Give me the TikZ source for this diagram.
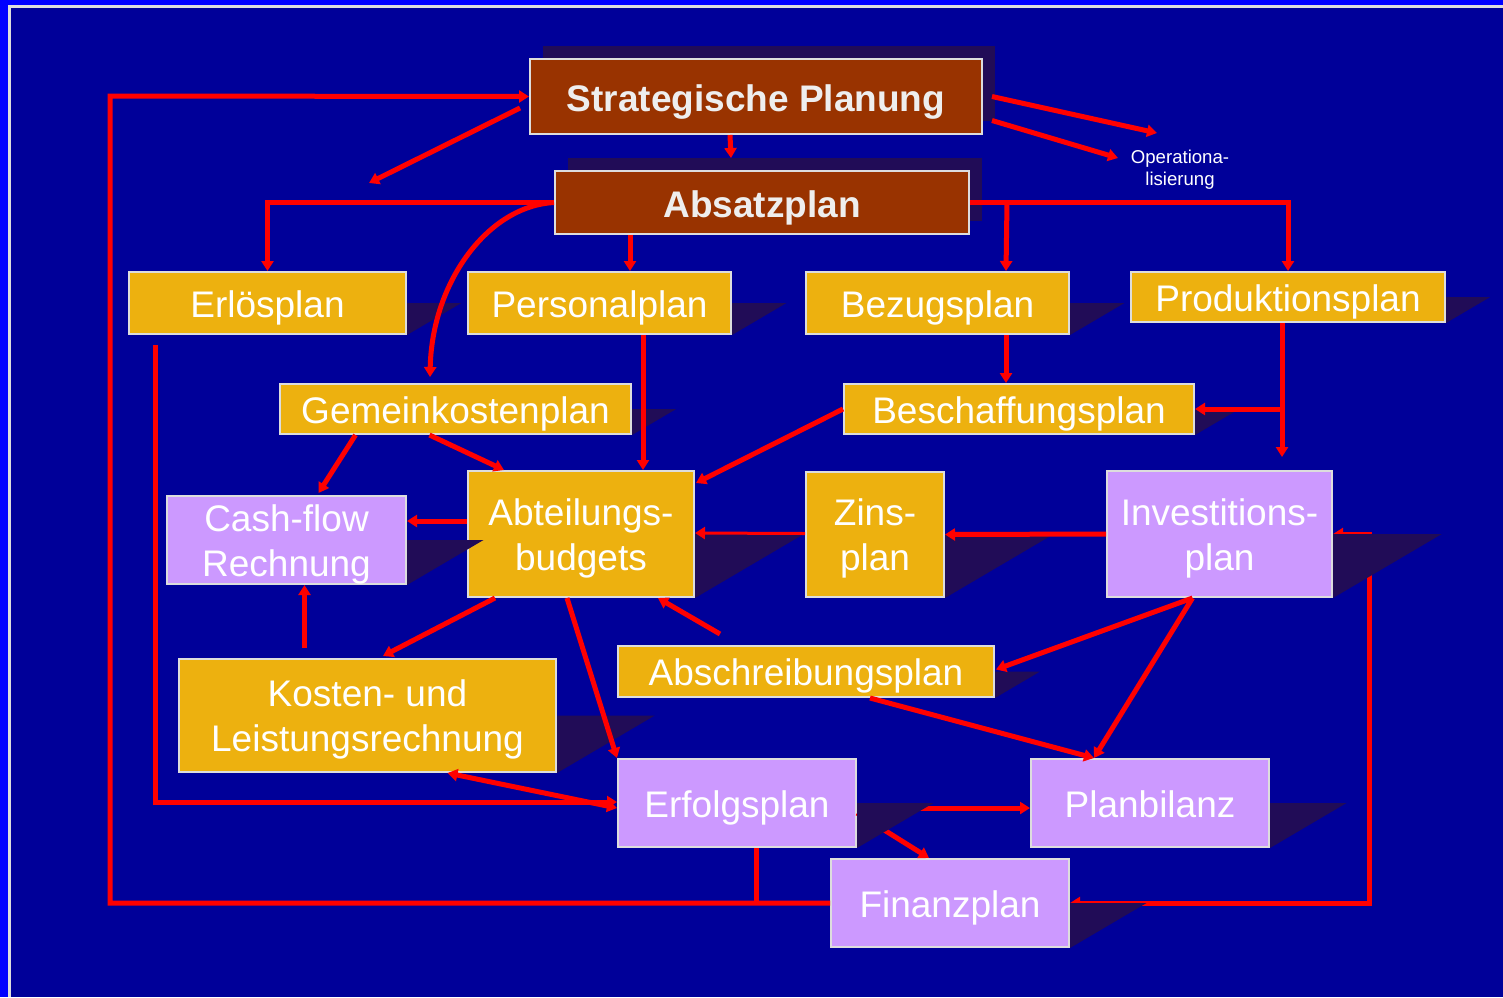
\documentclass[tikz,border=0pt]{standalone}
\usepackage{fontspec}
\setmainfont{Liberation Sans}
\usetikzlibrary{arrows.meta, positioning, calc, shadows}
\definecolor{DeepBlue}{HTML}{000099}
\definecolor{EdgeBlue}{HTML}{0000FF}
\definecolor{FrameGray}{HTML}{DDDDDD}
\definecolor{PlanBrown}{HTML}{993300}
\definecolor{PlanGold}{HTML}{EDB10F}
\definecolor{PlanLilac}{HTML}{CC99FF}
\definecolor{ShadowPurple}{HTML}{210C57}
\definecolor{LinkRed}{HTML}{FF0000}
\definecolor{TitleWhite}{HTML}{EEEEEE}

\begin{document}
\begin{tikzpicture}[x=0.5pt, y=-0.5pt, >={Triangle[length=5pt, width=6pt]},
    planbox/.style={draw=FrameGray, line width=1pt, text=white, align=center,
      inner sep=1pt, font=\fontsize{18.5}{22.5}\selectfont,
      text height=14.3pt, text depth=0pt},
    twoline/.style={text height=36.3pt},
    goldbox/.style={planbox, fill=PlanGold},
    lilacbox/.style={planbox, fill=PlanLilac},
    headbox/.style={planbox, fill=PlanBrown, text=TitleWhite,
      font=\bfseries\fontsize{18.5}{22.5}\selectfont, text height=15pt,
      drop shadow={shadow xshift=6.5pt, shadow yshift=6.5pt, opacity=1, fill=ShadowPurple}},
    planarrow/.style={->, draw=LinkRed, line width=2.5pt}]
  \useasboundingbox (0,0) rectangle (1503,997);
  \fill[EdgeBlue] (0,0) rectangle (1503,997);
  \fill[FrameGray] (8,5) rectangle (1503,997);
  \fill[DeepBlue] (11,7.5) rectangle (1503,997);

  \node[headbox, minimum width=226pt, minimum height=37.5pt] (strat) at (756,96.5) {Strategische Planung};
  \node[headbox, minimum width=207pt, minimum height=31.5pt] (absatz) at (762,202.5) {Absatzplan};
  \node[text=white, align=center, font=\fontsize{9.3}{11}\selectfont] (oper) at (1180,170) {Operationa-\\lisierung};

  \node[goldbox, minimum width=138.5pt, minimum height=31pt] (erloes) at (267.5,303) {Erlösplan};
  \node[goldbox, minimum width=131.5pt, minimum height=31pt] (personal) at (599.5,303) {Personalplan};
  \node[goldbox, minimum width=131.5pt, minimum height=31pt] (bezug) at (937.5,303) {Bezugsplan};
  \node[goldbox, minimum width=157pt, minimum height=25pt] (produktion) at (1288,297) {Produktionsplan};
  \node[goldbox, minimum width=175.5pt, minimum height=25pt] (gemein) at (455.5,409) {Gemeinkostenplan};
  \node[goldbox, minimum width=175pt, minimum height=25pt] (beschaff) at (1019,409) {Beschaffungsplan};
  \node[lilacbox, twoline, minimum width=119.5pt, minimum height=44pt] (cashflow) at (286.5,540) {Cash-flow\\Rechnung};
  \node[goldbox, twoline, minimum width=113pt, minimum height=63pt] (abteil) at (581,534) {Abteilungs-\\budgets};
  \node[goldbox, twoline, minimum width=69pt, minimum height=62.5pt] (zins) at (875,534.5) {Zins-\\plan};
  \node[lilacbox, twoline, minimum width=112.5pt, minimum height=63pt] (invest) at (1219.5,534) {Investitions-\\plan};
  \node[goldbox, twoline, minimum width=188.5pt, minimum height=56.5pt] (kosten) at (367.5,715.5) {Kosten- und\\Leistungsrechnung};
  \node[goldbox, minimum width=188pt, minimum height=25.5pt] (abschreib) at (806,671.5) {Abschreibungsplan};
  \node[lilacbox, minimum width=119pt, minimum height=44pt] (erfolg) at (737,803) {Erfolgsplan};
  \node[lilacbox, minimum width=119pt, minimum height=44pt] (planbilanz) at (1150,803) {Planbilanz};
  \node[lilacbox, minimum width=119pt, minimum height=44pt] (finanz) at (950,903) {Finanzplan};

  \coordinate (loopL) at (110,96);
  \coordinate (loopR) at (1369,903);
  \coordinate (stratout) at (369,183);
  \coordinate (op1) at (1157,133);
  \coordinate (op2) at (1118,158);
  \coordinate (prodsplit) at ($(produktion.south)+(-6,86)$);
  \coordinate (bilanzin) at ($(planbilanz.north)+(-56,0)$);

  \draw[planarrow, <->] (invest.east) -| (loopR) -- (finanz.east);
  \draw[planarrow] ($(erfolg.east)+(0,5)$) -- ($(planbilanz.west)+(0,5)$);
  \draw[planarrow] ($(erfolg.east)+(0,10)$) -- ($(finanz.north)+(-21,0)$);

  \foreach \plan in {erloes, personal, bezug, produktion, gemein, beschaff, cashflow,
      abteil, zins, invest, kosten, abschreib, erfolg, planbilanz, finanz}
    \fill[ShadowPurple] let \p1=(\plan.north), \p2=(\plan.south) in
      (\plan.east) -- ++({0.85*(\y1-\y2)}, 0pt) -- (\plan.south east) -- cycle;

  \draw[planarrow] (finanz.west) -| (loopL) -- (strat.west);
  \draw[planarrow, -] ($(erfolg.south)+(19,0)$) -- ($(erfolg.south)+(19,56)$);
  \draw[planarrow] ($(strat.west)+(-9,11.5)$) -- (stratout);
  \draw[planarrow] ($(strat.south)+(-26,0)$) -- ($(absatz.north)+(-31,-12)$);
  \draw[planarrow] ($(strat.east)+(9,0)$) -- (op1);
  \draw[planarrow] ($(strat.east)+(9,24)$) -- (op2);

  \draw[planarrow] (absatz.west) -| (erloes.north);
  \draw[planarrow] (absatz.west) .. controls (488,206) and (432,282) .. ($(gemein.north)+(-25.5,-6)$);
  \draw[planarrow] ($(absatz.south)+(-132,0)$) -- ($(personal.north)+(30.5,0)$);
  \draw[planarrow] (absatz.east) -| (produktion.north);
  \draw[planarrow] ($(absatz.east)+(37,0)$) -- ($(bezug.north)+(68.5,0)$);

  \draw[planarrow] ($(personal.south)+(43.5,0)$) -- ($(abteil.north)+(62,0)$);
  \draw[planarrow] ($(bezug.south)+(68.5,0)$) -- ($(beschaff.north)+(-13,0)$);
  \draw[planarrow] ($(produktion.south)+(-6,0)$) -- ($(invest.north)+(62.5,-13)$);
  \draw[planarrow] (prodsplit) -- (beschaff.east);
  \draw[planarrow] (beschaff.west) -- ($(abteil.north east)+(1,13)$);
  \draw[planarrow] ($(gemein.south)+(-100,0)$) -- ($(cashflow.north)+(32,-2)$);
  \draw[planarrow] ($(gemein.south)+(-26,0)$) -- ($(abteil.north)+(-77,0)$);

  \draw[planarrow] ($(abteil.west)+(0,-13)$) -- ($(cashflow.east)+(0,-19)$);
  \draw[planarrow, line width=1.5pt] ($(zins.west)+(0,-1)$) -- ($(abteil.east)+(0,-1)$);
  \draw[planarrow] (invest.west) -- (zins.east);

  \draw[planarrow] ($(kosten.north)+(-63,-10)$) -- ($(cashflow.south)+(18,0)$);
  \draw[planarrow] ($(abteil.south)+(-86,0)$) -- ($(kosten.north)+(15.5,-2)$);
  \draw[planarrow] ($(abteil.south)+(-14,0)$) -- (erfolg.north west);
  \draw[planarrow] ($(abschreib.north)+(-86,-11)$) -- ($(abteil.south)+(77,0)$);
  \draw[planarrow] ($(invest.south)+(-27,0)$) -- ($(abschreib.east)+(1,-2)$);
  \draw[planarrow] ($(invest.south)+(-27,0)$) -- (bilanzin);
  \draw[planarrow] ($(abschreib.south)+(64,0)$) -- (bilanzin);

  \draw[planarrow, <->] ($(kosten.south)+(80,0)$) -- ($(erfolg.west)+(0,5)$);
  \draw[planarrow] ($(erloes.south)+(-112.5,10)$) |- ($(erfolg.west)+(0,-1)$);
\end{tikzpicture}
\end{document}
